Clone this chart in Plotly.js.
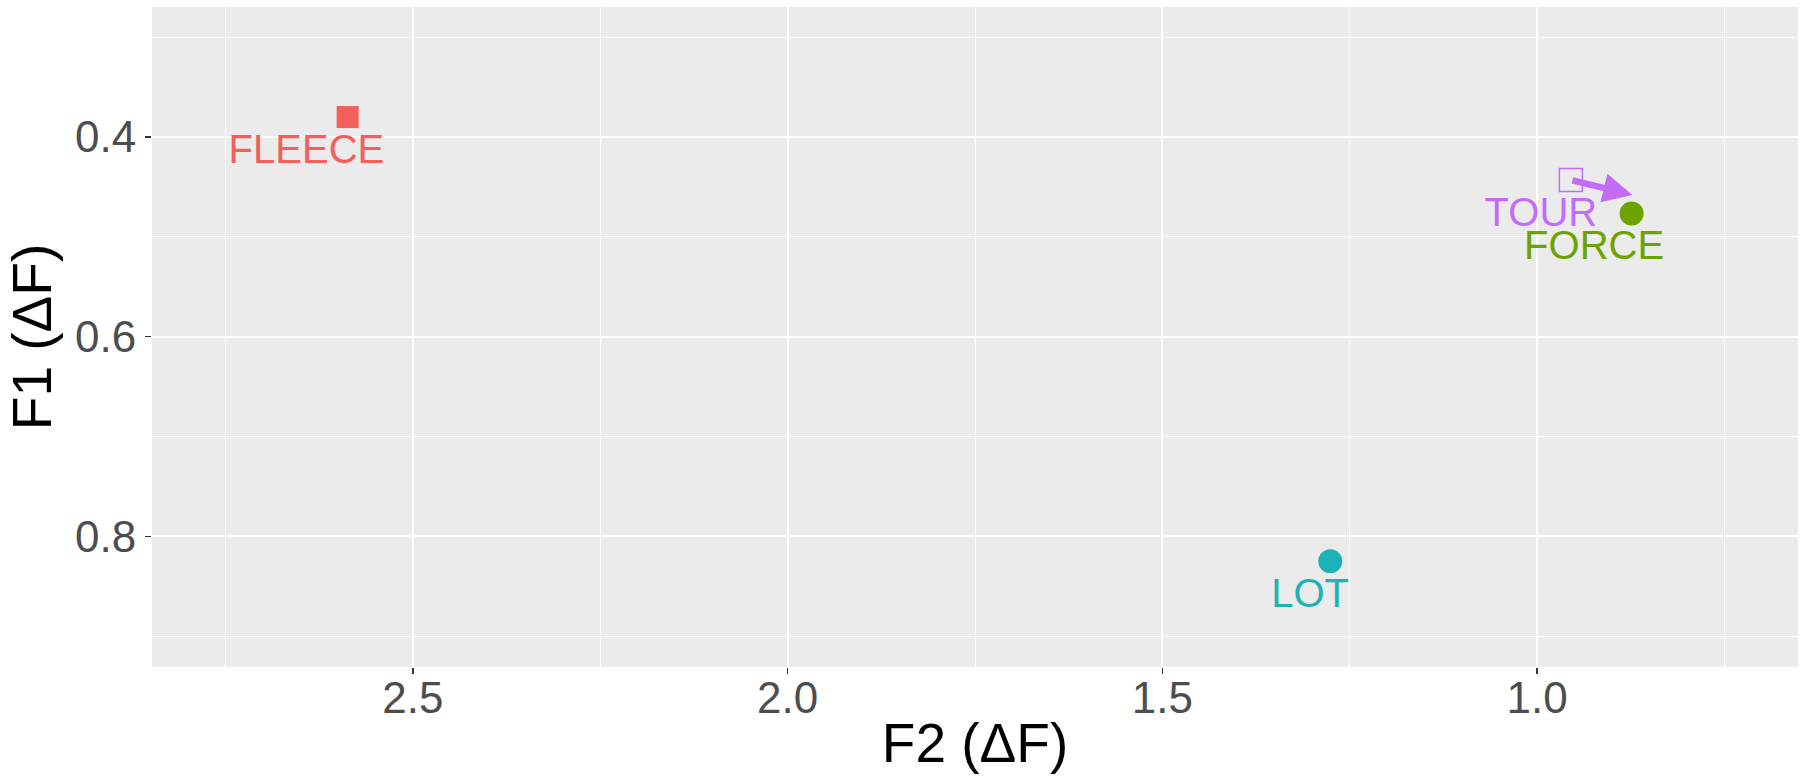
<!DOCTYPE html>
<html>
<head>
<meta charset="utf-8">
<script src="https://cdn.plot.ly/plotly-3.0.1.min.js"></script>
<style>html,body{margin:0;padding:0;background:#fff;}#chart{width:1804px;height:781px;}</style>
</head>
<body>
<div id="chart"></div>
<script>
// Data
const words   = ["FLEECE", "FORCE", "LOT", "TOUR"];
const f2      = [2.587, 0.874, 1.276, 0.955];
const f1      = [0.380, 0.4765, 0.825, 0.443];
const symbols = ["square", "circle", "circle", "square-open"];
const colors  = ["#F35F5A", "#6BA300", "#1CB3B8", "#C46CFA"];
// Label anchor positions (repelled labels)
const labelF2 = [2.642, 0.924, 1.303, 0.995];
const labelF1 = [0.4155, 0.5123, 0.8608, 0.479];
// Trajectory arrow (TOUR -> towards FORCE)
const arrowFromF2 = 0.955, arrowFromF1 = 0.443;
const arrowToF2   = 0.873, arrowToF1 = 0.458;
const arrowColor  = "#C46CFA";
const xTicks = [2.5, 2.0, 1.5, 1.0];
const xTickText = ["2.5", "2.0", "1.5", "1.0"];
const yTicks = [0.4, 0.6, 0.8];
const yTickText = ["0.4", "0.6", "0.8"];

const traces = words.map((w, i) => ({
  type: "scatter", mode: "markers",
  x: [f2[i]], y: [f1[i]], name: w, showlegend: false,
  marker: {
    symbol: symbols[i], color: colors[i],
    size: symbols[i] === "square-open" ? 23 : (symbols[i] === "square" ? 22 : 24),
    line: {width: symbols[i] === "square-open" ? 1.5 : 0, color: colors[i]}
  },
  hoverinfo: "x+y+name"
}));
traces.push({
  type: "scatter", mode: "text", x: labelF2, y: labelF1, text: words,
  textfont: {family: "Liberation Sans, Arial, sans-serif", size: 40, color: colors},
  textposition: "middle center", showlegend: false, hoverinfo: "skip"
});

const font = "Liberation Sans, Arial, Helvetica, sans-serif";
const layout = {
  width: 1804, height: 781,
  margin: {l: 152, r: 6, t: 7, b: 114, pad: 0},
  paper_bgcolor: "#ffffff", plot_bgcolor: "#EBEBEB",
  font: {family: font},
  xaxis: {
    range: [2.848, 0.652], tickvals: xTicks, ticktext: xTickText,
    showgrid: true, gridcolor: "#ffffff", gridwidth: 2.2,
    minor: {showgrid: true, gridcolor: "#ffffff", gridwidth: 1, dtick: 0.25, tick0: 0.75},
    zeroline: false, showline: false,
    ticks: "outside", ticklen: 6, tickwidth: 1.5, tickcolor: "#333333",
    ticklabelstandoff: -14,
    tickfont: {size: 44, color: "#4D4D4D", family: font},
    title: {text: "F2 (ΔF)", font: {size: 55, color: "#000000", family: font}, standoff: 2}
  },
  yaxis: {
    range: [0.931, 0.2697], tickvals: yTicks, ticktext: yTickText,
    showgrid: true, gridcolor: "#ffffff", gridwidth: 2.2,
    minor: {showgrid: true, gridcolor: "#ffffff", gridwidth: 1, dtick: 0.1, tick0: 0.3},
    zeroline: false, showline: false,
    ticks: "outside", ticklen: 6, tickwidth: 1.5, tickcolor: "#333333",
    tickfont: {size: 44, color: "#4D4D4D", family: font},
    title: {text: "F1 (ΔF)", font: {size: 55, color: "#000000", family: font}, standoff: 5}
  },
  annotations: [{
    x: arrowToF2, y: arrowToF1, ax: arrowFromF2, ay: arrowFromF1,
    xref: "x", yref: "y", axref: "x", ayref: "y",
    text: "", showarrow: true, arrowhead: 2, arrowsize: 0.9,
    arrowwidth: 6.5, arrowcolor: arrowColor, standoff: 0, startstandoff: 0
  }],
  showlegend: false
};

Plotly.newPlot("chart", traces, layout, {displayModeBar: false, staticPlot: true});
</script>
</body>
</html>
